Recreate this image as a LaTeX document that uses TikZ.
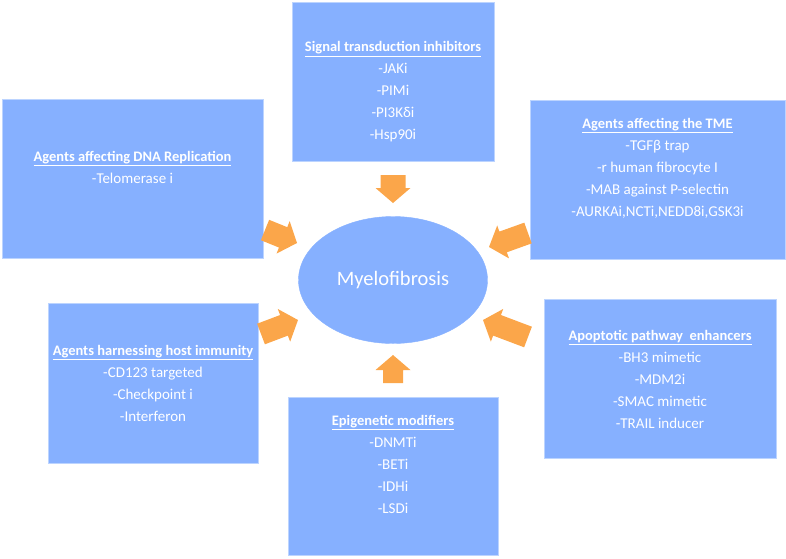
\documentclass[tikz,border=0pt]{standalone}
\usepackage{fontspec}
\setmainfont{Carlito}
\usepackage{xcolor}
\usetikzlibrary{calc, shapes.geometric, positioning}

\definecolor{boxblue}{RGB}{134,176,255}
\definecolor{arroworange}{RGB}{251,166,74}

\tikzset{
  groupbox/.style={draw=boxblue!55!white, line width=0.8pt, fill=boxblue},
  grouptext/.style={text=white, align=center, font=\fontsize{15}{22}\selectfont},
  centre/.style={ellipse, fill=boxblue, draw=boxblue, text=white, font=\fontsize{20.5}{24}\selectfont},
}
\newcommand{\grouphead}[1]{\underline{\fontsize{14.5}{22}\selectfont\textbf{#1}}}

% block arrow: tail, tip, half width of the shaft
\newcommand{\fatarrow}[3]{%
  \fill[arroworange] ($(#1)!#3!90:(#2)$) -- ($(#2)!15pt!(#1)!#3!90:(#2)$)
    -- ($(#2)!15pt!(#1)!17.5pt!90:(#2)$) -- (#2)
    -- ($(#2)!15pt!(#1)!17.5pt!-90:(#2)$) -- ($(#2)!15pt!(#1)!#3!-90:(#2)$)
    -- ($(#1)!#3!-90:(#2)$) -- cycle;}

\begin{document}
\begin{tikzpicture}[x=1pt, y=-1pt]
    \useasboundingbox (0,0) rectangle (786,558);

    % 1. Centre
    \node[centre, minimum width=189pt, minimum height=127pt] (myelo) at (393,280) {Myelofibrosis};

    % 2. Boxes
    \node[groupbox, minimum width=202pt, minimum height=159pt] (signal) at (393,81.5) {};
    \node[groupbox, minimum width=261pt, minimum height=159pt] (dnarep) at (132.5,178.5) {};
    \node[groupbox, minimum width=255pt, minimum height=159pt] (tme) at (657.5,179.5) {};
    \node[groupbox, minimum width=210pt, minimum height=160pt] (immune) at (153,383) {};
    \node[groupbox, minimum width=232pt, minimum height=159pt] (apopt) at (660,378.5) {};
    \node[groupbox, minimum width=210pt, minimum height=158pt] (epigen) at (393,476) {};

    % 3. Texts
    \node[grouptext] (signaltxt) at (393,92) {\grouphead{Signal transduction inhibitors}\\
        -JAKi\\ -PIMi\\ -PI3Kδi\\ -Hsp90i};
    \node[grouptext] (dnareptxt) at (132.5,167.5) {\grouphead{Agents affecting DNA Replication}\\
        -Telomerase i};
    \node[grouptext] (tmetxt) at (657.5,168) {\grouphead{Agents affecting the TME}\\
        -TGFβ trap\\ -r human fibrocyte I\\ -MAB against P-selectin\\ -AURKAi,NCTi,NEDD8i,GSK3i};
    \node[grouptext] (immunetxt) at (153,383) {\grouphead{Agents harnessing host immunity}\\
        -CD123 targeted\\ -Checkpoint i\\ -Interferon};
    \node[grouptext] (apopttxt) at (660,379) {\grouphead{Apoptotic pathway\ \ enhancers}\\
        -BH3 mimetic\\ -MDM2i\\ -SMAC mimetic\\ -TRAIL inducer};
    \node[grouptext] (epigentxt) at (393,464.5) {\grouphead{Epigenetic modifiers}\\
        -DNMTi\\ -BETi\\ -IDHi\\ -LSDi};

    % 4. Arrows
    \coordinate (signalout) at (393,175);  \coordinate (signalin) at (393,203);
    \coordinate (dnarepout) at (265,230);  \coordinate (dnarepin) at (297,243);
    \coordinate (tmeout) at (528,233);     \coordinate (tmein) at (489,247);
    \coordinate (immuneout) at (261,334);  \coordinate (immunein) at (298,320);
    \coordinate (apoptout) at (528,337);   \coordinate (apoptin) at (483,320);
    \coordinate (epigenout) at (393,383);  \coordinate (epigenin) at (393,355);
    \fatarrow{signalout}{signalin}{12.5pt}
    \fatarrow{dnarepout}{dnarepin}{11pt}
    \fatarrow{tmeout}{tmein}{11pt}
    \fatarrow{immuneout}{immunein}{11pt}
    \fatarrow{apoptout}{apoptin}{11pt}
    \fatarrow{epigenout}{epigenin}{10pt}
\end{tikzpicture}
\end{document}
